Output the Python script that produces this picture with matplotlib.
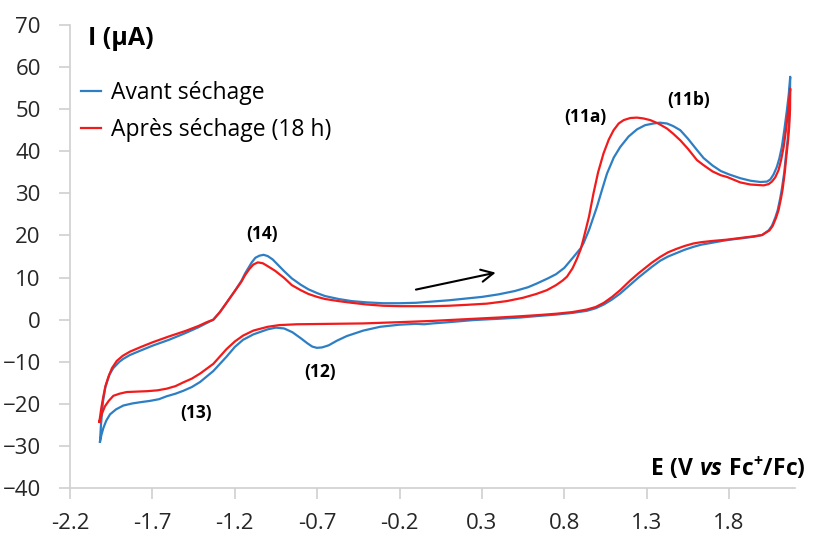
import matplotlib
matplotlib.use("Agg")
from matplotlib import pyplot as plt

# blue curve: avant sechage, forward sweep (to the right)
e_avant_fwd = [-2.018, -2.012, -2.0, -1.985, -1.96, -1.937, -1.9, -1.876, -1.836, -1.775,
               -1.7, -1.6, -1.5, -1.42, -1.37, -1.33, -1.29, -1.25, -1.2, -1.16,
               -1.137, -1.097, -1.075, -1.05, -1.025, -1.0, -0.97, -0.935, -0.9, -0.854,
               -0.8, -0.753, -0.7, -0.652, -0.57, -0.49, -0.4, -0.3, -0.2, -0.1,
               0.0, 0.1, 0.2, 0.3, 0.4, 0.5, 0.58, 0.634, 0.7, 0.75,
               0.8, 0.856, 0.9, 0.917, 0.95, 0.998, 1.03, 1.059, 1.1, 1.139,
               1.19, 1.241, 1.29, 1.341, 1.38, 1.423, 1.46, 1.504, 1.55, 1.605,
               1.645, 1.7, 1.75, 1.8, 1.868, 1.93, 1.99, 2.03, 2.05, 2.07,
               2.09, 2.105, 2.12, 2.135, 2.151, 2.162, 2.171]
i_avant_fwd = [-29.0, -25.0, -19.5, -16.0, -13.0, -11.5, -10.0, -9.3, -8.4, -7.4,
               -6.2, -4.8, -3.2, -1.8, -0.8, 0.0, 1.8, 4.0, 6.8, 9.2,
               11.0, 13.6, 14.7, 15.2, 15.4, 15.1, 14.3, 12.9, 11.5, 9.8,
               8.3, 7.2, 6.3, 5.6, 4.9, 4.4, 4.1, 3.9, 3.9, 4.0,
               4.3, 4.6, 5.0, 5.4, 6.0, 6.8, 7.7, 8.6, 9.8, 10.8,
               12.3, 14.9, 17.0, 18.2, 21.3, 26.8, 31.0, 34.7, 38.5, 41.0,
               43.5, 45.2, 46.2, 46.6, 46.8, 46.6, 46.0, 45.0, 43.0, 40.3,
               38.4, 36.6, 35.3, 34.5, 33.6, 33.0, 32.7, 32.8, 33.3, 34.5,
               36.3, 38.3, 41.0, 45.0, 49.8, 53.5, 57.7]

# blue curve: return sweep (to the left)
e_avant_ret = [2.171, 2.168, 2.162, 2.155, 2.145, 2.135, 2.12, 2.11, 2.095, 2.08,
               2.06, 2.04, 2.0, 1.95, 1.868, 1.787, 1.7, 1.63, 1.584, 1.53,
               1.48, 1.43, 1.382, 1.33, 1.25, 1.2, 1.139, 1.09, 1.04, 0.99,
               0.937, 0.85, 0.75, 0.65, 0.532, 0.4, 0.25, 0.1, 0.0, -0.05,
               -0.1, -0.2, -0.318, -0.42, -0.52, -0.58, -0.63, -0.67, -0.702, -0.73,
               -0.76, -0.8, -0.85, -0.9, -0.95, -1.0, -1.087, -1.15, -1.2, -1.25,
               -1.33, -1.41, -1.46, -1.512, -1.56, -1.613, -1.66, -1.714, -1.77, -1.82,
               -1.876, -1.92, -1.957, -1.98, -1.998, -2.01, -2.018]
i_avant_ret = [57.7, 50.0, 46.0, 42.6, 39.0, 35.0, 31.0, 28.8, 26.0, 24.2,
               22.3, 21.2, 20.1, 19.7, 19.3, 18.9, 18.3, 17.8, 17.3, 16.6,
               15.8, 15.0, 14.0, 12.5, 10.0, 8.3, 6.2, 4.8, 3.6, 2.7,
               2.1, 1.6, 1.2, 0.9, 0.5, 0.2, -0.1, -0.6, -0.9, -1.1,
               -1.0, -1.2, -1.7, -2.6, -3.9, -5.0, -6.1, -6.6, -6.7, -6.4,
               -5.6, -4.4, -3.0, -2.1, -1.9, -2.3, -3.5, -4.8, -6.5, -8.8,
               -12.2, -14.8, -16.0, -16.9, -17.6, -18.2, -18.9, -19.3, -19.6, -19.9,
               -20.4, -21.3, -22.5, -24.0, -25.8, -27.5, -29.0]

# red curve: apres sechage (18 h), forward sweep
e_apres_fwd = [-2.022, -2.01, -1.998, -1.985, -1.967, -1.945, -1.916, -1.88, -1.836, -1.77,
               -1.7, -1.6, -1.5, -1.42, -1.37, -1.33, -1.29, -1.25, -1.2, -1.16,
               -1.137, -1.11, -1.087, -1.06, -1.03, -1.0, -0.955, -0.9, -0.854, -0.8,
               -0.753, -0.7, -0.652, -0.57, -0.49, -0.4, -0.3, -0.2, -0.1, 0.0,
               0.1, 0.2, 0.33, 0.45, 0.55, 0.63, 0.694, 0.75, 0.79, 0.816,
               0.85, 0.877, 0.9, 0.917, 0.95, 0.977, 1.005, 1.038, 1.07, 1.099,
               1.13, 1.16, 1.2, 1.241, 1.28, 1.322, 1.37, 1.423, 1.46, 1.504,
               1.55, 1.605, 1.645, 1.7, 1.75, 1.787, 1.868, 1.93, 2.01, 2.04,
               2.06, 2.08, 2.1, 2.115, 2.131, 2.145, 2.161, 2.171]
i_apres_fwd = [-24.3, -21.0, -18.3, -15.8, -13.6, -11.5, -9.8, -8.6, -7.6, -6.5,
               -5.4, -4.0, -2.7, -1.5, -0.6, 0.0, 1.8, 4.0, 6.8, 9.0,
               10.6, 12.1, 13.1, 13.6, 13.4, 12.7, 11.6, 9.9, 8.2, 7.0,
               6.1, 5.4, 4.9, 4.4, 4.0, 3.6, 3.3, 3.2, 3.2, 3.2,
               3.3, 3.5, 3.8, 4.4, 5.2, 6.1, 7.0, 8.2, 9.3, 10.2,
               12.2, 14.5, 16.8, 19.3, 24.5, 30.0, 35.0, 39.5, 42.8, 45.0,
               46.6, 47.4, 47.9, 48.0, 47.8, 47.4, 46.6, 45.4, 44.2, 42.6,
               40.6, 37.9, 36.7, 35.2, 34.3, 33.9, 32.6, 32.1, 31.9, 32.2,
               32.8, 33.8, 35.5, 37.8, 41.0, 45.0, 50.5, 54.9]

# red curve: return sweep
e_apres_ret = [2.171, 2.17, 2.165, 2.158, 2.148, 2.138, 2.125, 2.115, 2.1, 2.085,
               2.065, 2.045, 2.0, 1.95, 1.868, 1.787, 1.7, 1.63, 1.584, 1.53,
               1.48, 1.43, 1.382, 1.33, 1.25, 1.2, 1.139, 1.09, 1.04, 0.99,
               0.937, 0.85, 0.75, 0.65, 0.532, 0.4, 0.25, 0.1, 0.0, -0.2,
               -0.42, -0.6, -0.824, -0.93, -1.0, -1.087, -1.15, -1.2, -1.25, -1.33,
               -1.41, -1.46, -1.512, -1.56, -1.613, -1.67, -1.734, -1.8, -1.856, -1.9,
               -1.937, -1.965, -1.988, -2.005, -2.022]
i_apres_ret = [54.9, 50.0, 46.0, 42.6, 39.0, 35.0, 31.0, 28.8, 26.0, 24.2,
               22.3, 21.2, 20.1, 19.8, 19.4, 19.0, 18.7, 18.4, 18.1, 17.5,
               16.8, 16.0, 14.9, 13.5, 11.0, 9.3, 7.0, 5.4, 4.0, 3.0,
               2.4, 1.8, 1.4, 1.1, 0.8, 0.5, 0.2, -0.1, -0.3, -0.6,
               -0.9, -1.0, -1.1, -1.3, -1.7, -2.6, -3.8, -5.2, -7.0, -10.5,
               -12.8, -14.0, -14.9, -15.8, -16.4, -16.8, -17.0, -17.1, -17.2, -17.6,
               -18.1, -19.3, -20.6, -22.2, -24.3]

x_ticks = [-2.2, -1.7, -1.2, -0.7, -0.2, 0.3, 0.8, 1.3, 1.8]
y_ticks = [-40, -30, -20, -10, 0, 10, 20, 30, 40, 50, 60, 70]

plt.rcParams['font.family'] = ['Open Sans', 'DejaVu Sans']
plt.rcParams['mathtext.fontset'] = 'custom'
plt.rcParams['mathtext.rm'] = 'Open Sans:bold'
plt.rcParams['mathtext.bf'] = 'Open Sans:bold'
plt.rcParams['mathtext.it'] = 'Open Sans:italic:bold'

fig = plt.figure(figsize=(8.13, 5.34), dpi=100)
ax = fig.add_axes([70/813, 1-488/534, 725/813, 463/534])

blue = '#2E7EC4'
red = '#F21B1B'
ax.plot(e_avant_fwd + e_avant_ret, i_avant_fwd + i_avant_ret, color=blue, lw=1.6,
        label='Avant séchage')
ax.plot(e_apres_fwd + e_apres_ret, i_apres_fwd + i_apres_ret, color=red, lw=1.6,
        label='Après séchage (18 h)')

ax.set_xlim(-2.2, 2.2)
ax.set_ylim(-40, 70)
ax.set_xticks(x_ticks)
ax.set_xticklabels([f"{v:.1f}" for v in x_ticks])
ax.set_yticks(y_ticks)
for s in ['top', 'right']:
    ax.spines[s].set_visible(False)
for s in ['left', 'bottom']:
    ax.spines[s].set_color('#d0d0d0')
    ax.spines[s].set_linewidth(1.2)
ax.tick_params(direction='out', length=8, color='#d0d0d0', width=1.2,
               labelsize=16, labelcolor='#262626')
ax.tick_params(axis='x', pad=10)
ax.tick_params(axis='y', pad=13)

ax.legend(loc='upper left', bbox_to_anchor=(0.015, 0.878), frameon=False,
          borderpad=0, borderaxespad=0,
          fontsize=16.5, handlelength=0.88, handletextpad=0.43, labelspacing=0.55)

ax.text(-1.89, 66.9, 'I (µA)', fontsize=18, fontweight='bold', ha='center', va='center')
ax.text(1.79, -35.3, r'$\mathrm{E\ (V\ }\mathit{vs}\mathrm{\ Fc^{+}/Fc)}$', fontsize=16.5,
        ha='center', va='center')

ax.text(-1.034, 20.3, '(14)', fontsize=12.5, fontweight='bold', ha='center', va='center')
ax.text(-1.435, -22.2, '(13)', fontsize=12.5, fontweight='bold', ha='center', va='center')
ax.text(-0.682, -12.5, '(12)', fontsize=12.5, fontweight='bold', ha='center', va='center')
ax.text(0.927, 48.1, '(11a)', fontsize=12.5, fontweight='bold', ha='center', va='center')
ax.text(1.552, 52.1, '(11b)', fontsize=12.5, fontweight='bold', ha='center', va='center')

ax.annotate('', xy=(0.40, 11.3), xytext=(-0.117, 7.0),
            arrowprops=dict(arrowstyle='->', color='black', lw=1.5, mutation_scale=22))

fig.savefig('out.png', dpi=100)
